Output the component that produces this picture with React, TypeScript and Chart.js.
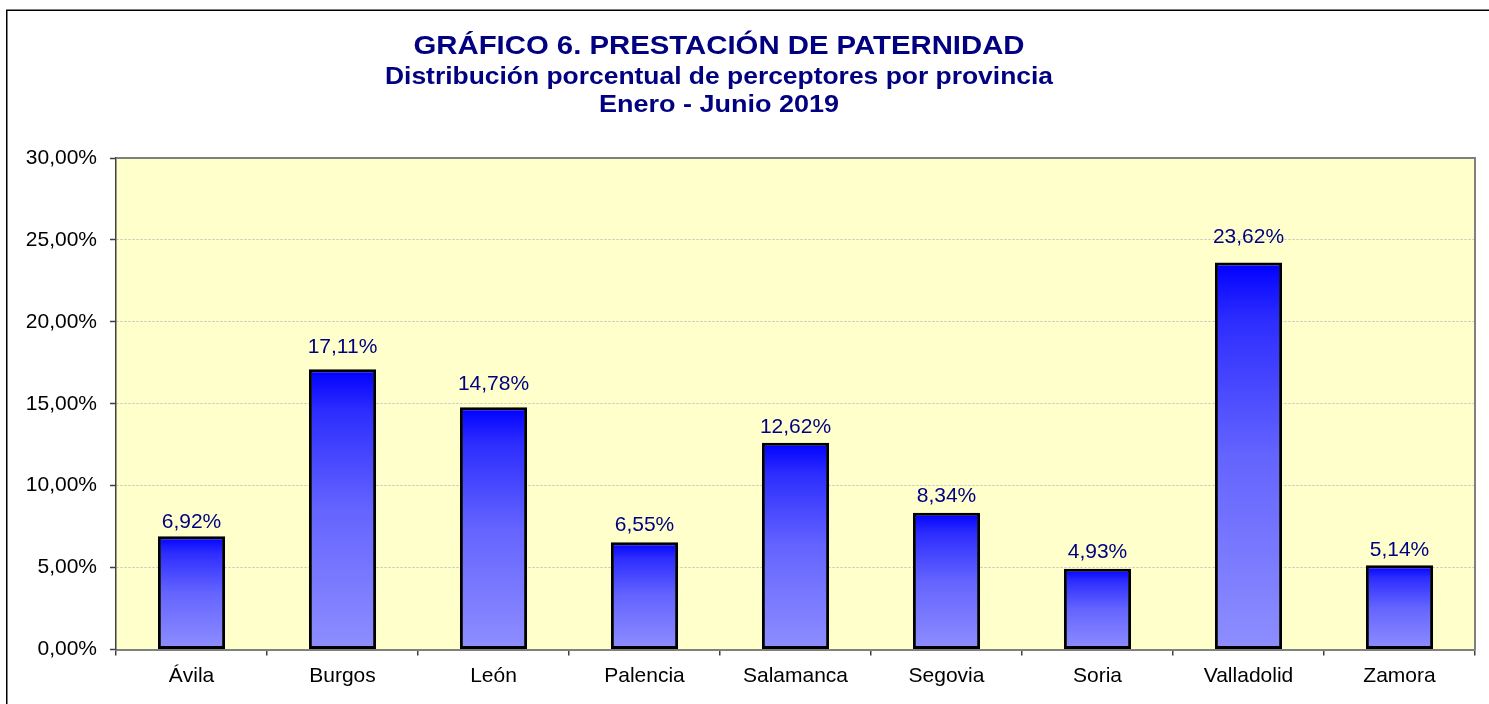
import React, { useEffect, useRef } from "react";
import { Chart, registerables } from "chart.js";

Chart.register(...registerables);

const categories = ["Ávila", "Burgos", "León", "Palencia", "Salamanca", "Segovia", "Soria", "Valladolid", "Zamora"];
const values = [6.92, 17.11, 14.78, 6.55, 12.62, 8.34, 4.93, 23.62, 5.14];
// manual nudges of the value labels above each bar (px), as in the source chart
const labelLift = [7, 15, 16.5, 10.5, 8.5, 9.5, 9.5, 19, 8];
const titleLines = [
  "GRÁFICO 6. PRESTACIÓN DE PATERNIDAD",
  "Distribución porcentual de perceptores por provincia",
  "Enero - Junio 2019",
];
const yMin = 0;
const yMax = 30;
const yStep = 5;

const FONT = "Arial, 'Liberation Sans', sans-serif";
const NAVY = "#000080";

const fmt = (v: number) => v.toFixed(2).replace(".", ",") + "%";

const framePlugin = {
  id: "frame",
  beforeDraw(chart: any) {
    const { ctx, chartArea } = chart;
    ctx.save();
    ctx.fillStyle = "#ffffff";
    ctx.fillRect(0, 0, chart.width, chart.height);
    // outer border
    ctx.strokeStyle = "#000000";
    ctx.lineWidth = 1.5;
    ctx.beginPath();
    ctx.moveTo(6.75, chart.height + 10);
    ctx.lineTo(6.75, 10.25);
    ctx.lineTo(chart.width + 10, 10.25);
    ctx.stroke();
    // plot background
    ctx.fillStyle = "#ffffcc";
    ctx.fillRect(chartArea.left, chartArea.top, chartArea.right - chartArea.left, chartArea.bottom - chartArea.top);
    // titles
    ctx.fillStyle = NAVY;
    ctx.textAlign = "center";
    ctx.textBaseline = "alphabetic";
    const specs = [
      { size: 26, base: 54, w: 611 },
      { size: 23, base: 83.5, w: 668 },
      { size: 23, base: 112, w: 240 },
    ];
    titleLines.forEach((t, i) => {
      const s = specs[i];
      ctx.font = `bold ${s.size}px ${FONT}`;
      const nat = ctx.measureText(t).width;
      ctx.save();
      ctx.translate(719, s.base);
      ctx.scale(s.w / nat, 1);
      ctx.fillText(t, 0, 0);
      ctx.restore();
    });
    ctx.restore();
  },
  afterDraw(chart: any) {
    const { ctx, chartArea } = chart;
    ctx.save();
    ctx.strokeStyle = "#808080";
    ctx.lineWidth = 2;
    ctx.beginPath();
    ctx.moveTo(chartArea.left, chartArea.top);
    ctx.lineTo(chartArea.right, chartArea.top);
    ctx.lineTo(chartArea.right, chartArea.bottom + 1);
    ctx.stroke();
    ctx.restore();
  },
  afterDatasetsDraw(chart: any) {
    const { ctx } = chart;
    const meta = chart.getDatasetMeta(0);
    ctx.save();
    ctx.fillStyle = NAVY;
    ctx.font = `21px ${FONT}`;
    ctx.textAlign = "center";
    ctx.textBaseline = "alphabetic";
    meta.data.forEach((el: any, i: number) => {
      ctx.fillText(fmt(values[i]), el.x, el.y - 1 - labelLift[i]);
    });
    ctx.restore();
  },
};

export default function App() {
  const ref = useRef<HTMLCanvasElement>(null);
  useEffect(() => {
    if (!ref.current) return;
    const chart = new Chart(ref.current, {
      type: "bar",
      data: {
        labels: categories,
        datasets: [
          {
            data: values,
            backgroundColor: (c: any) => {
              const ch = c.chart;
              if (!ch.chartArea || c.raw == null) return "#4040ff";
              const ys = ch.scales.y;
              const top = ys.getPixelForValue(c.raw);
              const bottom = ys.getPixelForValue(0);
              const g = ch.ctx.createLinearGradient(0, top, 0, bottom);
              g.addColorStop(0, "rgb(0,0,255)");
              g.addColorStop(0.15, "rgb(45,45,255)");
              g.addColorStop(0.5, "rgb(100,100,255)");
              g.addColorStop(1, "rgb(142,142,255)");
              return g;
            },
            borderColor: "#000000",
            borderWidth: 3,
            borderSkipped: false,
            barPercentage: 0.445,
            categoryPercentage: 1,
          },
        ],
      },
      plugins: [framePlugin],
      options: {
        responsive: false,
        animation: false,
        layout: { padding: { top: 158, right: 14, left: 0, bottom: 0 } },
        plugins: {
          legend: { display: false },
          title: { display: false },
          tooltip: { enabled: false },
        },
        scales: {
          x: {
            afterFit: (s: any) => {
              s.height = 54.5;
            },
            grid: {
              offset: true,
              drawOnChartArea: false,
              drawTicks: true,
              tickLength: 6,
              tickColor: "#404040",
              lineWidth: 1.5,
            },
            border: { display: true, color: "#808080", width: 2 },
            ticks: {
              color: "#000000",
              font: { family: FONT, size: 21 },
              padding: 8,
              maxRotation: 0,
              autoSkip: false,
            },
          },
          y: {
            min: yMin,
            max: yMax,
            afterFit: (s: any) => {
              s.width = 116;
            },
            grid: {
              color: "#c0c0c0",
              lineWidth: 1,
              drawTicks: true,
              tickLength: 6,
              tickColor: "#404040",
              tickWidth: 1.5,
              tickBorderDash: [],
            },
            border: { display: true, color: "#404040", width: 1.5, dash: [2, 2] },
            ticks: {
              stepSize: yStep,
              color: "#000000",
              font: { family: FONT, size: 21 },
              padding: 13,
              callback: (v: any) => fmt(Number(v)),
            },
          },
        },
      },
    });
    return () => chart.destroy();
  }, []);
  return (
    <div style={{ position: "fixed", left: 0, top: 0, width: 1489, height: 704, background: "#fff" }}>
      <canvas ref={ref} width={1489} height={704} style={{ display: "block" }} />
    </div>
  );
}
